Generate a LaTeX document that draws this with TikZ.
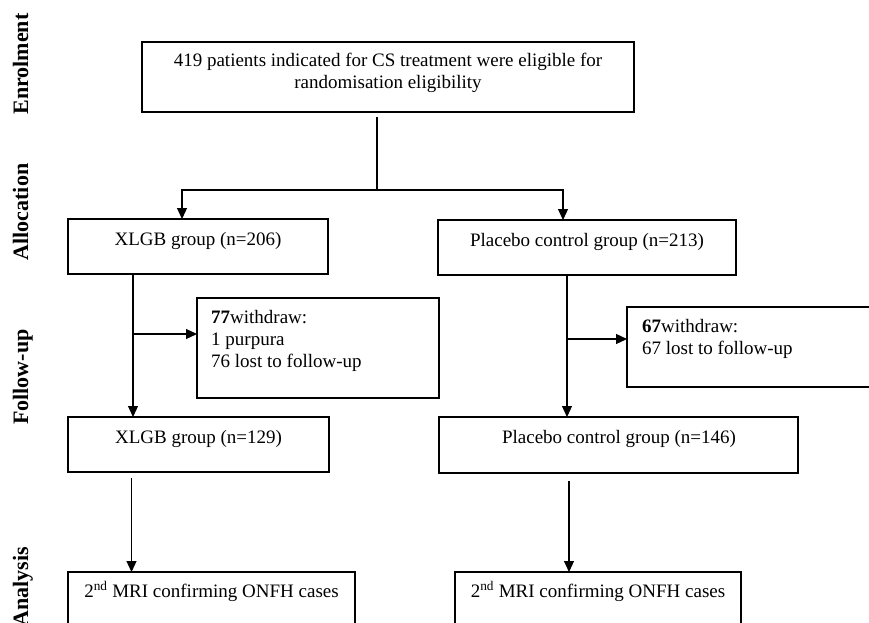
\documentclass[tikz,border=0pt]{standalone}
\usepackage{fontspec}
\setmainfont{Liberation Serif}
\usetikzlibrary{arrows.meta}
\begin{document}
\begin{tikzpicture}[x=1pt,y=-1pt,
  box/.style={draw, line width=1.2pt, inner sep=0pt, outer sep=0pt, anchor=north west},
  txt/.style={inner sep=0pt, font=\fontsize{19}{22}\selectfont, anchor=base},
  txtl/.style={inner sep=0pt, font=\fontsize{19}{22}\selectfont, anchor=base west},
  side/.style={inner sep=0pt, font=\fontsize{22}{26}\selectfont\bfseries, rotate=90, anchor=base},
  conn/.style={line width=1.2pt},
  arr/.style={line width=1.2pt, -{Triangle[length=11pt,width=10pt]}}]
\useasboundingbox (0,0) rectangle (869,623);
\clip (0,0) rectangle (869,623);
\fill[white] (0,0) rectangle (869,623);

% side labels
\node[side] (sEnr) at (28,64) {Enrolment};
\node[side] (sAll) at (28,212) {Allocation};
\node[side] (sFol) at (28,377) {Follow-up};
\node[side] (sAna) at (28,587) {Analysis};

% boxes
\node[box, minimum width=492pt, minimum height=70pt] (T) at (142,42) {};
\node[box, minimum width=260pt, minimum height=55pt] (A1) at (68,219) {};
\node[box, minimum width=298pt, minimum height=55pt] (B1) at (438,220) {};
\node[box, minimum width=242pt, minimum height=100pt] (W1) at (197,298) {};
\node[box, minimum width=260pt, minimum height=80pt] (W2) at (627,307) {};
\node[box, minimum width=261pt, minimum height=55pt] (A2) at (68,417) {};
\node[box, minimum width=359pt, minimum height=56pt] (B2) at (439,417) {};
\node[box, minimum width=287pt, minimum height=70pt] (C1) at (68,572) {};
\node[box, minimum width=286pt, minimum height=70pt] (C2) at (455,572) {};

% texts
\node[txt] (Tt1) at (388,67) {419 patients indicated for CS treatment were eligible for};
\node[txt] (Tt2) at (388,89) {randomisation eligibility};
\node[txt] (A1t) at (198,245) {XLGB group (n=206)};
\node[txt] (B1t) at (587,246) {Placebo control group (n=213)};
\node[txtl] (W1t1) at (211,323) {\textbf{77}withdraw:};
\node[txtl] (W1t2) at (211,345) {1 purpura};
\node[txtl] (W1t3) at (211,367) {76 lost to follow-up};
\node[txtl] (W2t1) at (642,332) {\textbf{67}withdraw:};
\node[txtl] (W2t2) at (642,354) {67 lost to follow-up};
\node[txt] (A2t) at (198.5,443) {XLGB group (n=129)};
\node[txt] (B2t) at (619,443) {Placebo control group (n=146)};
\node[txt] (C1t) at (211.5,597) {2\textsuperscript{nd} MRI confirming ONFH cases};
\node[txt] (C2t) at (598,597) {2\textsuperscript{nd} MRI confirming ONFH cases};

% connectors
\coordinate (split) at (377,190);
\draw[conn] ([xshift=-11pt,yshift=-5pt]T.south) -- (split);
\draw[arr] (split) -| ([xshift=-16pt]A1.north);
\draw[arr] (split) -| ([xshift=-24pt]B1.north);

\coordinate (lx) at (133,0);
\coordinate (j1) at (133,334);
\draw[arr] (A1.south -| lx) -- (A2.north -| lx);
\draw[arr] (j1) -- (j1 -| W1.west);

\coordinate (rx) at (567,0);
\coordinate (j2) at (567,339);
\draw[arr] (B1.south -| rx) -- (B2.north -| rx);
\draw[arr] (j2) -- (j2 -| W2.west);

\coordinate (c1s) at (131.5,478);
\coordinate (c2s) at (569,481);
\draw[arr] (c1s) -- (c1s |- C1.north);
\draw[arr] (c2s) -- (c2s |- C2.north);
\end{tikzpicture}
\end{document}
